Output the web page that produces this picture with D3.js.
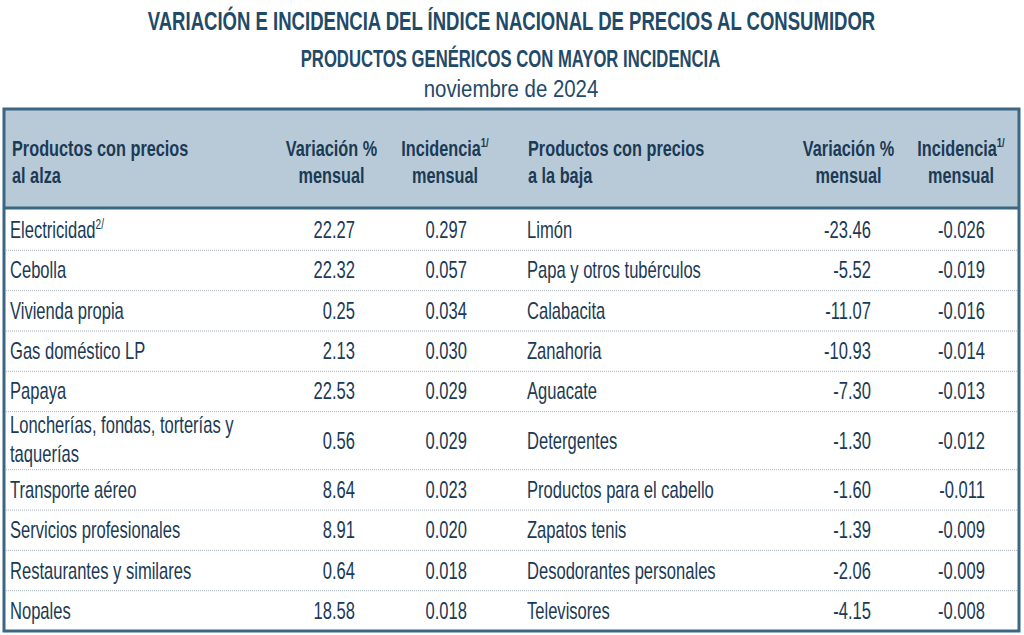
<!DOCTYPE html>
<html>
<head>
<meta charset="utf-8">
<script src="https://cdn.jsdelivr.net/npm/d3@7"></script>
<style>
  body { margin: 0; background: #fff; }
  text { font-family: "Liberation Sans", Arial, sans-serif; fill: #1b3a55; }
</style>
</head>
<body>
<div id="tabla"></div>
<script>
// data
let productosAlza = ["Electricidad", "Cebolla", "Vivienda propia", "Gas doméstico LP", "Papaya",
    "Loncherías, fondas, torterías y|taquerías", "Transporte aéreo", "Servicios profesionales",
    "Restaurantes y similares", "Nopales"];
let variacionAlza = ["22.27", "22.32", "0.25", "2.13", "22.53", "0.56", "8.64", "8.91", "0.64", "18.58"];
let incidenciaAlza = ["0.297", "0.057", "0.034", "0.030", "0.029", "0.029", "0.023", "0.020", "0.018", "0.018"];
let notaAlza = ["2/", "", "", "", "", "", "", "", "", ""];

let productosBaja = ["Limón", "Papa y otros tubérculos", "Calabacita", "Zanahoria", "Aguacate",
    "Detergentes", "Productos para el cabello", "Zapatos tenis", "Desodorantes personales", "Televisores"];
let variacionBaja = ["-23.46", "-5.52", "-11.07", "-10.93", "-7.30", "-1.30", "-1.60", "-1.39", "-2.06", "-4.15"];
let incidenciaBaja = ["-0.026", "-0.019", "-0.016", "-0.014", "-0.013", "-0.012", "-0.011", "-0.009", "-0.009", "-0.008"];

// row height in units (the Loncherías row wraps on two lines)
let rowUnits = [1, 1, 1, 1, 1, 1.44, 1, 1, 1, 1];

let width = 1024, height = 635;
let box = {left: 4, right: 1019, top: 109, head: 208, bottom: 631};

let svg = d3.select("#tabla")
    .append("svg")
    .attr("width", width)
    .attr("height", height);

// the original uses a condensed face, so squeeze each text horizontally
function label(x, y, anchor, size, weight, sx) {
    return svg.append("text")
        .attr("transform", "translate(" + x + "," + y + ") scale(" + sx + ",1)")
        .attr("text-anchor", anchor)
        .style("font-size", size + "px")
        .style("font-weight", weight);
}

// titles
label(511.5, 30, "middle", 26.5, "bold", 0.70)
    .style("fill", "#1f4a68")
    .text("VARIACIÓN E INCIDENCIA DEL ÍNDICE NACIONAL DE PRECIOS AL CONSUMIDOR");
label(510.5, 67, "middle", 23.5, "bold", 0.71)
    .style("fill", "#1f4a68")
    .text("PRODUCTOS GENÉRICOS CON MAYOR INCIDENCIA");
label(511, 97, "middle", 24, "normal", 0.85)
    .style("fill", "#1f4a68")
    .text("noviembre de 2024");

// vertical scale over cumulative row units
let cum = [0];
rowUnits.forEach(function(u, i) { cum.push(cum[i] + u); });
let y = d3.scaleLinear()
    .domain([0, d3.sum(rowUnits)])
    .range([box.head + 2, box.bottom]);

// header background
svg.append("rect")
    .attr("x", box.left).attr("y", box.top)
    .attr("width", box.right - box.left).attr("height", box.head - box.top)
    .style("fill", "#b8cad7");

// dotted row separators
svg.selectAll(".sep")
    .data(cum.slice(1, -1))
    .enter()
    .append("line")
    .attr("x1", box.left).attr("x2", box.right)
    .attr("y1", function(d) { return y(d); })
    .attr("y2", function(d) { return y(d); })
    .style("stroke", "#a9b4bd")
    .style("stroke-width", 1)
    .style("stroke-dasharray", "1,1");

// header / body separator and outer border
svg.append("line")
    .attr("x1", box.left).attr("x2", box.right)
    .attr("y1", box.head).attr("y2", box.head)
    .style("stroke", "#3b6684").style("stroke-width", 3);
svg.append("rect")
    .attr("x", box.left).attr("y", box.top)
    .attr("width", box.right - box.left).attr("height", box.bottom - box.top)
    .style("fill", "none")
    .style("stroke", "#3b6684").style("stroke-width", 3);

// column headers
function header(x, anchor, l1, l2, sup) {
    let t1 = label(x, 156, anchor, 22, "bold", 0.74);
    t1.append("tspan").text(l1);
    if (sup) {
        t1.append("tspan").attr("dy", -9).style("font-size", "13px").text(sup);
    }
    label(x, 183, anchor, 22, "bold", 0.74).text(l2);
}
header(12, "start", "Productos con precios", "al alza");
header(331.5, "middle", "Variación %", "mensual");
header(445, "middle", "Incidencia", "mensual", "1/");
header(528, "start", "Productos con precios", "a la baja");
header(848.5, "middle", "Variación %", "mensual");
header(961, "middle", "Incidencia", "mensual", "1/");

// body cells
function rowMid(i) { return (y(cum[i]) + y(cum[i + 1])) / 2; }

function column(values, x, anchor, notes) {
    values.forEach(function(v, i) {
        let lines = v.split("|");
        let mid = rowMid(i);
        if (lines.length > 1) {
            lines.forEach(function(l, k) {
                label(x, mid - 8 + k * 29, anchor, 23, "normal", 0.72).text(l);
            });
        } else {
            let t = label(x, mid + 8, anchor, 23, "normal", 0.72);
            t.append("tspan").text(v);
            if (notes && notes[i]) {
                t.append("tspan").attr("dy", -9).style("font-size", "14px").text(notes[i]);
            }
        }
    });
}

column(productosAlza, 10, "start", notaAlza);
column(variacionAlza, 355, "end");
column(incidenciaAlza, 467, "end");
column(productosBaja, 527, "start");
column(variacionBaja, 871, "end");
column(incidenciaBaja, 985, "end");
</script>
</body>
</html>
